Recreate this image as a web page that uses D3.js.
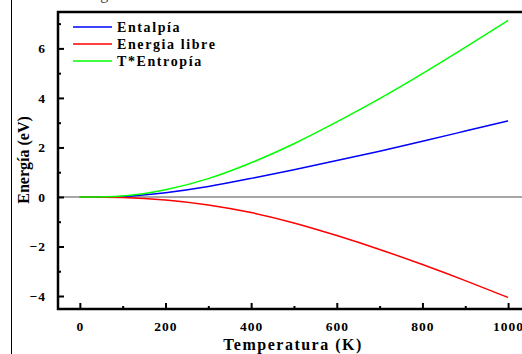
<!DOCTYPE html>
<html lang="es">
  <head>
    <meta charset="utf-8">
    <title>Energia_vs_Temperatura</title>
    <script src="https://d3js.org/d3.v7.js"></script>
    <style>
      body { margin: 0; background: white; }
      text { font-family: "Liberation Serif", "Times New Roman", serif; font-weight: bold; }
    </style>
  </head>

  <body>
  <script>

// data

  var temperatura  = [0, 100, 200, 300, 400, 500, 600, 700, 800, 900, 1000];
  var entalpia     = [0, 0.02, 0.17, 0.42, 0.75, 1.10, 1.47, 1.85, 2.25, 2.66, 3.07];
  var energiaLibre = [0, -0.02, -0.12, -0.32, -0.63, -1.05, -1.56, -2.12, -2.73, -3.38, -4.06];
  var tEntropia    = [0, 0.04, 0.29, 0.74, 1.38, 2.15, 3.03, 3.97, 4.98, 6.04, 7.13];

  var seriesNames = ["Entalpía", "Energia libre", "T*Entropía"];
  var xTicks = [0, 200, 400, 600, 800, 1000];
  var yTicks = [-4, -2, 0, 2, 4, 6];

  var series = [
    {name: seriesNames[0], values: entalpia, color: "#0000ff"},
    {name: seriesNames[1], values: energiaLibre, color: "#ff0000"},
    {name: seriesNames[2], values: tEntropia, color: "#00ff00"}
  ];

  var w = 522;
  var h = 354;
  var margin = {top: 12, left: 58, bottom: 45};

  var xScale = d3.scaleLinear()
      .domain([-51, 1050])
      .range([margin.left, 529.5]);

  var yScale = d3.scaleLinear()
      .domain([-4.525, 7.47])
      .range([h - margin.bottom, margin.top]);

  var svg = d3.select("body")
    .append("svg")
      .attr("width", w)
      .attr("height", h);

// cropped caption and page border

  svg.append("text")
      .attr("x", 85)
      .attr("y", -1)
      .attr("font-size", 16)
      .style("font-weight", "normal")
      .attr("fill", "#444")
      .style("letter-spacing", "1px")
      .text("Figura 3. Funciones termodinámicas de la estructura");

  svg.append("line")
      .attr("x1", 11.5).attr("x2", 11.5)
      .attr("y1", 0).attr("y2", h)
      .attr("stroke", "black")
      .attr("stroke-width", 1);

// zero line

  svg.append("line")
      .attr("x1", margin.left).attr("x2", w)
      .attr("y1", yScale(0)).attr("y2", yScale(0))
      .attr("stroke", "#888")
      .attr("stroke-width", 1.6);

// curves

  var line = d3.line()
      .x((d, i) => xScale(temperatura[i]))
      .y(d => yScale(d))
      .curve(d3.curveNatural);

  svg.append("g")
    .selectAll("path")
      .data(series)
    .enter().append("path")
      .attr("d", d => line(d.values))
      .attr("fill", "none")
      .attr("stroke", d => d.color)
      .attr("stroke-width", 1.5);

// axes (ticks inward)

  var xAxis = d3.axisBottom(xScale)
      .tickValues(xTicks)
      .tickFormat(d3.format("d"))
      .tickSizeInner(-6)
      .tickSizeOuter(0)
      .tickPadding(12);

  var xMinor = d3.axisBottom(xScale)
      .tickValues(xTicks.slice(0, -1).map(t => t + 100))
      .tickSizeInner(-3)
      .tickSizeOuter(0)
      .tickFormat("");

  var yAxis = d3.axisLeft(yScale)
      .tickValues(yTicks)
      .tickSizeInner(-6)
      .tickSizeOuter(0)
      .tickPadding(12);

  var yMinor = d3.axisLeft(yScale)
      .tickValues(yTicks.map(t => t + 1))
      .tickSizeInner(-3)
      .tickSizeOuter(0)
      .tickFormat("");

  function styleAxis(g) {
    g.select(".domain").remove();
    g.selectAll(".tick line").attr("stroke", "black").attr("stroke-width", 2);
    g.selectAll(".tick text")
        .attr("font-size", 13.5)
        .attr("fill", "black")
        .style("font-family", "'Liberation Serif', serif")
        .style("font-weight", "bold")
        .style("letter-spacing", "1px");
  }

  svg.append("g")
      .attr("transform", `translate(0, ${h - margin.bottom})`)
      .call(xAxis).call(styleAxis);
  svg.append("g")
      .attr("transform", `translate(0, ${h - margin.bottom})`)
      .call(xMinor).call(styleAxis);
  svg.append("g")
      .attr("transform", `translate(${margin.left}, 0)`)
      .call(yAxis).call(styleAxis);
  svg.append("g")
      .attr("transform", `translate(${margin.left}, 0)`)
      .call(yMinor).call(styleAxis);

// frame

  svg.append("path")
      .attr("d", `M${w},${margin.top}H${margin.left}V${h - margin.bottom}H${w}`)
      .attr("fill", "none")
      .attr("stroke", "black")
      .attr("stroke-width", 2.5);

// axis titles

  svg.append("text")
      .attr("x", 293)
      .attr("y", 350)
      .attr("text-anchor", "middle")
      .attr("font-size", 16)
      .style("letter-spacing", "1.5px")
      .text("Temperatura (K)");

  svg.append("text")
      .attr("transform", `translate(29, 160) rotate(-90)`)
      .attr("text-anchor", "middle")
      .attr("font-size", 16)
      .text("Energía (eV)");

// legend

  var legend = svg.append("g")
    .selectAll("g")
      .data(series)
    .enter().append("g")
      .attr("transform", (d, i) => `translate(73, ${27 + i * 17})`);

  legend.append("line")
      .attr("x1", 0).attr("x2", 39)
      .attr("stroke", d => d.color)
      .attr("stroke-width", 1.5);

  legend.append("text")
      .attr("x", 44)
      .attr("y", 5)
      .attr("font-size", 14)
      .style("letter-spacing", "1.6px")
      .text(d => d.name);

  </script>
  </body>

</html>
